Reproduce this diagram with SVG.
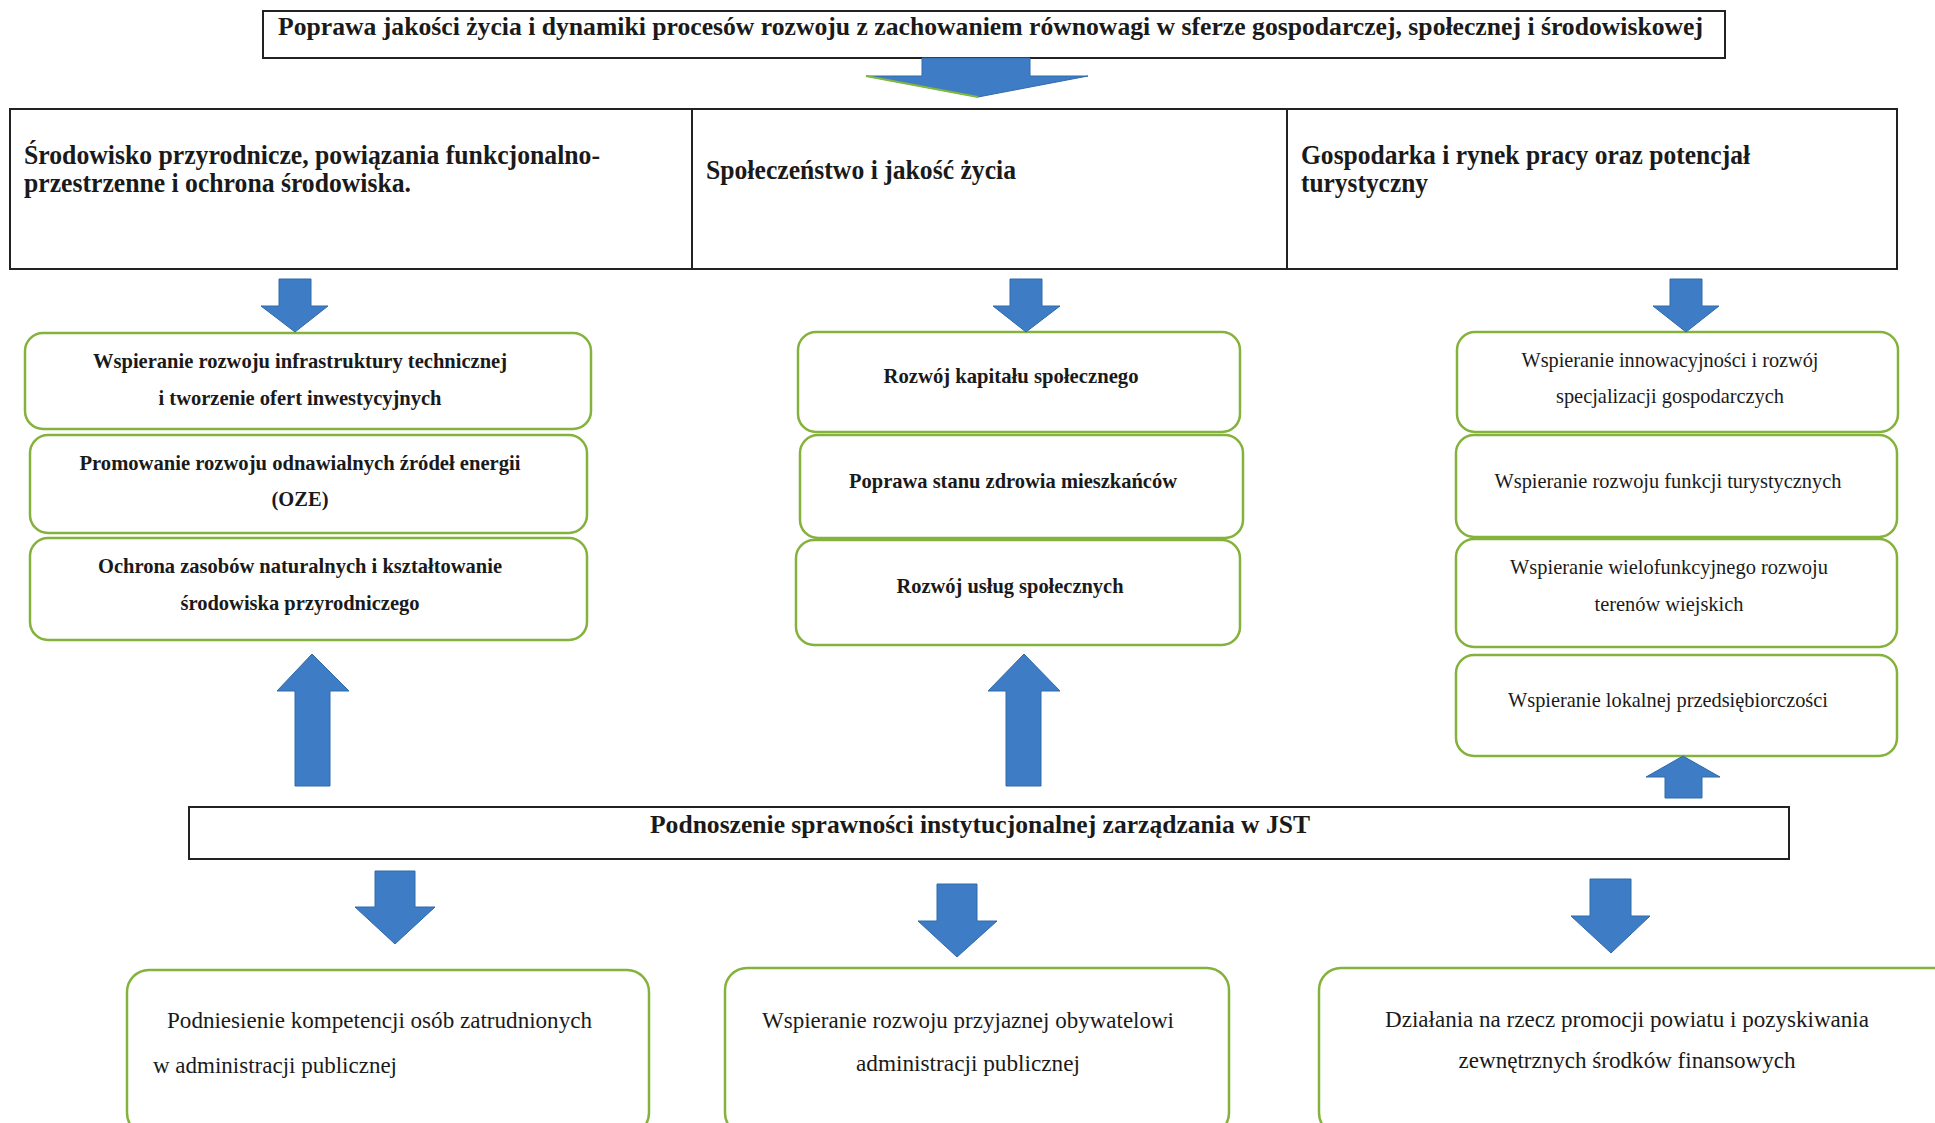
<svg xmlns="http://www.w3.org/2000/svg" width="1935" height="1123" viewBox="0 0 1935 1123">
<style>
.bg{fill:#ffffff}
.box{fill:#ffffff;stroke:#222222;stroke-width:2}
.gbox{fill:#ffffff;stroke:#84b23c;stroke-width:2.5}
.arr{fill:#3f7cc6;stroke:#2f6aa8;stroke-width:1}
.tb{font-family:"Liberation Serif","Times New Roman",serif;font-weight:bold;fill:#1a1a1a}
.tr{font-family:"Liberation Serif","Times New Roman",serif;fill:#1a1a1a}
.c{text-anchor:middle}
</style>
<rect class="bg" x="0" y="0" width="1935" height="1123"/>

<g id="goal">
<rect class="box" x="263" y="11" width="1462" height="47"/>
<text class="tb" x="278" y="35" font-size="25" textLength="1425" lengthAdjust="spacingAndGlyphs">Poprawa jakości życia i dynamiki procesów rozwoju z zachowaniem równowagi w sferze gospodarczej, społecznej i środowiskowej</text>
</g>

<g id="areas">
<rect class="box" x="10" y="109" width="1887" height="160"/>
<line x1="692" y1="109" x2="692" y2="269" stroke="#222" stroke-width="2"/>
<line x1="1287" y1="109" x2="1287" y2="269" stroke="#222" stroke-width="2"/>
</g>
<g id="area-env">
<text class="tb" x="24" y="164" font-size="27" textLength="576" lengthAdjust="spacingAndGlyphs">Środowisko przyrodnicze, powiązania funkcjonalno-</text>
<text class="tb" x="24" y="192" font-size="27" textLength="387" lengthAdjust="spacingAndGlyphs">przestrzenne i ochrona środowiska.</text>
</g>
<g id="area-soc">
<text class="tb" x="706" y="179" font-size="27" textLength="310" lengthAdjust="spacingAndGlyphs">Społeczeństwo i jakość życia</text>
</g>
<g id="area-eco">
<text class="tb" x="1301" y="164" font-size="27" textLength="449" lengthAdjust="spacingAndGlyphs">Gospodarka i rynek pracy oraz potencjał</text>
<text class="tb" x="1301" y="192" font-size="27" textLength="127" lengthAdjust="spacingAndGlyphs">turystyczny</text>
</g>

<g id="l1">
<rect class="gbox" x="25" y="333" width="566" height="96" rx="18"/>
<text class="tb c" x="300" y="368" font-size="21" textLength="414" lengthAdjust="spacingAndGlyphs">Wspieranie rozwoju infrastruktury technicznej</text>
<text class="tb c" x="300" y="405" font-size="21" textLength="283" lengthAdjust="spacingAndGlyphs">i tworzenie ofert inwestycyjnych</text>
</g>
<g id="l2">
<rect class="gbox" x="30" y="435" width="557" height="98" rx="18"/>
<text class="tb c" x="300" y="470" font-size="21" textLength="441" lengthAdjust="spacingAndGlyphs">Promowanie rozwoju odnawialnych źródeł energii</text>
<text class="tb c" x="300" y="506" font-size="21" textLength="57" lengthAdjust="spacingAndGlyphs">(OZE)</text>
</g>
<g id="l3">
<rect class="gbox" x="30" y="538" width="557" height="102" rx="18"/>
<text class="tb c" x="300" y="573" font-size="21" textLength="404" lengthAdjust="spacingAndGlyphs">Ochrona zasobów naturalnych i kształtowanie</text>
<text class="tb c" x="300" y="610" font-size="21" textLength="239" lengthAdjust="spacingAndGlyphs">środowiska przyrodniczego</text>
</g>

<g id="m1">
<rect class="gbox" x="798" y="332" width="442" height="100" rx="18"/>
<text class="tb c" x="1011" y="383" font-size="21" textLength="255" lengthAdjust="spacingAndGlyphs">Rozwój kapitału  społecznego</text>
</g>
<g id="m2">
<rect class="gbox" x="800" y="435" width="443" height="103" rx="18"/>
<text class="tb c" x="1013" y="488" font-size="21" textLength="328" lengthAdjust="spacingAndGlyphs">Poprawa stanu zdrowia mieszkańców</text>
</g>
<g id="m3">
<rect class="gbox" x="796" y="540" width="444" height="105" rx="18"/>
<text class="tb c" x="1010" y="593" font-size="21" textLength="227" lengthAdjust="spacingAndGlyphs">Rozwój usług społecznych</text>
</g>

<g id="r1">
<rect class="gbox" x="1457" y="332" width="441" height="100" rx="18"/>
<text class="tr c" x="1670" y="367" font-size="21" textLength="297" lengthAdjust="spacingAndGlyphs">Wspieranie innowacyjności i rozwój</text>
<text class="tr c" x="1670" y="403" font-size="21" textLength="228" lengthAdjust="spacingAndGlyphs">specjalizacji gospodarczych</text>
</g>
<g id="r2">
<rect class="gbox" x="1456" y="435" width="441" height="102" rx="18"/>
<text class="tr c" x="1668" y="488" font-size="21" textLength="347" lengthAdjust="spacingAndGlyphs">Wspieranie rozwoju funkcji turystycznych</text>
</g>
<g id="r3">
<rect class="gbox" x="1456" y="539" width="441" height="108" rx="18"/>
<text class="tr c" x="1669" y="574" font-size="21" textLength="318" lengthAdjust="spacingAndGlyphs">Wspieranie wielofunkcyjnego rozwoju</text>
<text class="tr c" x="1669" y="611" font-size="21" textLength="149" lengthAdjust="spacingAndGlyphs">terenów wiejskich</text>
</g>
<g id="r4">
<rect class="gbox" x="1456" y="655" width="441" height="101" rx="18"/>
<text class="tr c" x="1668" y="707" font-size="21" textLength="320" lengthAdjust="spacingAndGlyphs">Wspieranie lokalnej przedsiębiorczości</text>
</g>

<g id="jst">
<rect class="box" x="189" y="807" width="1600" height="52"/>
<text class="tb c" x="980" y="833" font-size="26" textLength="660" lengthAdjust="spacingAndGlyphs">Podnoszenie sprawności instytucjonalnej zarządzania w JST</text>
</g>

<g id="b1">
<rect class="gbox" x="127" y="970" width="522" height="165" rx="22"/>
<text class="tr" x="167" y="1028" font-size="23" textLength="425" lengthAdjust="spacingAndGlyphs">Podniesienie kompetencji osób zatrudnionych</text>
<text class="tr" x="153" y="1073" font-size="23" textLength="244" lengthAdjust="spacingAndGlyphs">w administracji publicznej</text>
</g>
<g id="b2">
<rect class="gbox" x="725" y="968" width="504" height="167" rx="22"/>
<text class="tr c" x="968" y="1028" font-size="23" textLength="412" lengthAdjust="spacingAndGlyphs">Wspieranie rozwoju przyjaznej obywatelowi</text>
<text class="tr c" x="968" y="1071" font-size="23" textLength="224" lengthAdjust="spacingAndGlyphs">administracji publicznej</text>
</g>
<g id="b3">
<rect class="gbox" x="1319" y="968" width="640" height="167" rx="22"/>
<text class="tr c" x="1627" y="1027" font-size="23" textLength="484" lengthAdjust="spacingAndGlyphs">Działania na rzecz promocji powiatu i pozyskiwania</text>
<text class="tr c" x="1627" y="1068" font-size="23" textLength="337" lengthAdjust="spacingAndGlyphs">zewnętrznych środków finansowych</text>
</g>

<g id="connectors">
<polygon class="arr" points="922,58 1030,58 1030,76 1088,76 978,97 866,76 922,76"/>
<line x1="866" y1="76" x2="978" y2="97" stroke="#7fb83a" stroke-width="2"/>
<polygon class="arr" points="279,279 311,279 311,306 328,306 295,332 261,306 279,306"/>
<polygon class="arr" points="1010,279 1042,279 1042,306 1060,306 1026,332 993,306 1010,306"/>
<polygon class="arr" points="1670,279 1702,279 1702,306 1719,306 1686,332 1653,306 1670,306"/>
<polygon class="arr" points="295,786 330,786 330,691 349,691 312,654 277,691 295,691"/>
<polygon class="arr" points="1006,786 1041,786 1041,691 1060,691 1024,654 988,691 1006,691"/>
<polygon class="arr" points="1665,798 1702,798 1702,777 1720,777 1683,756 1646,777 1665,777"/>
<polygon class="arr" points="375,871 415,871 415,907 435,907 395,944 355,907 375,907"/>
<polygon class="arr" points="937,884 977,884 977,921 997,921 957,957 918,921 937,921"/>
<polygon class="arr" points="1590,879 1631,879 1631,916 1650,916 1611,953 1571,916 1590,916"/>
</g>
</svg>
